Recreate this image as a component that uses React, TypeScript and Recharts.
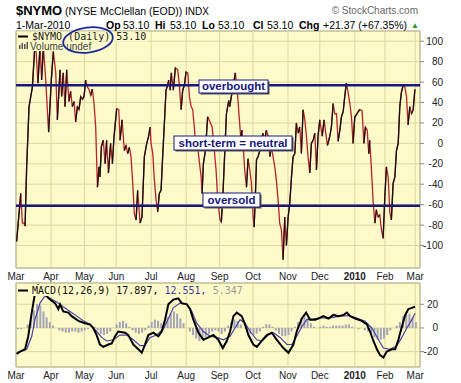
import React from 'react';
import {
  LineChart,
  ComposedChart,
  Line,
  Bar,
  XAxis,
  YAxis,
  CartesianGrid,
  ReferenceLine,
  ReferenceArea,
} from 'recharts';

// trading-day index of each month start (Mar 2009 .. Mar 2010)
const monthTicks = [0, 22, 43, 63, 85, 107, 128, 149, 171, 191, 213, 232, 251];
const monthLabels = ['Mar', 'Apr', 'May', 'Jun', 'Jul', 'Aug', 'Sep', 'Oct', 'Nov', 'Dec', '2010', 'Feb', 'Mar'];
const nymoTicks = [-100, -80, -60, -40, -20, 0, 20, 40, 60, 80, 100];
const macdTicks = [-20, 0, 20];

const overbought = 57;
const oversold = -61;

// [trading day, NYMO]
const nymo: [number, number][] = [
  [0.4, -96], [3, -49], [4, -78], [5, -78], [5.7, -81], [6.7, -23], [8.2, 36], [10.3, 55], [11.7, 92], [12.4, 96],
  [13.8, 59], [15.1, 95], [16.1, 62], [17.2, 94], [18.7, 62], [19.7, 33], [20.5, 11], [22.2, 62], [23.5, 90], [25, 69],
  [26, 23], [27.7, 72], [28.7, 46], [29.7, 69], [30.8, 36], [31.9, 72], [33.3, 41], [34.4, 51], [35.4, 36], [36.5, 41],
  [37.5, 21], [38.6, 36], [39.6, 33], [40.7, 46], [41.7, 43], [42.8, 46], [43.8, 62], [44.9, 55], [45.9, 53], [47, 47],
  [48, 53], [49.1, 38], [50.1, 16], [51.2, -43], [52.2, -23], [52.8, -33], [53.7, -3], [54.9, 3], [56, -20], [57, 3],
  [58.1, -29], [59.5, 0], [60.6, -20], [61.6, 6], [63.3, 34], [64.6, 33], [65.4, 3], [66.7, 23], [68.1, -7], [69.2, -2],
  [70.2, -10], [71.3, -4], [72.3, -13], [73.4, -39], [74.4, -69], [75.5, -75], [76.5, -46], [78, -78], [79.2, -72], [80.7, -13],
  [82.2, 0], [83.4, 7], [84.3, 16], [84.9, 0], [86, -10], [87, -36], [88.1, -56], [89.1, -67], [90.1, -49], [91.2, -46],
  [92.3, -10], [93.3, 20], [94.3, 52], [95.4, 57], [96, 62], [96.9, 52], [97.7, 69], [98.9, 52], [100.2, 74], [101.7, 72],
  [102.7, 57], [103.8, 33], [104.8, 52], [105.9, 57], [106.9, 70], [108, 69], [109, 46], [110.1, 36], [111.1, 33], [112.1, 16],
  [113.2, -7], [113.8, 3], [114.7, -10], [116.4, -33], [117, -49], [117.8, -20], [119.1, -7], [120.5, 26], [122, 21], [123.3, 16],
  [124.7, -7], [125.8, -26], [126.8, -55], [128.3, -75], [129.1, -77], [130.2, -46], [131.3, -7], [132.3, 29], [133.8, 42], [134.4, 36],
  [135.4, 46], [136.5, 55], [137.9, 69], [139.2, 50], [140.3, 26], [141.3, 6], [142.1, 13], [142.8, -2], [143.8, -26], [144.9, -43],
  [145.9, -15], [147, -26], [148, -39], [149.1, -72], [149.7, -82], [150.5, -52], [151.2, -16], [152.2, -13], [153.3, -7], [154.3, 3],
  [155.3, 10], [156.4, 3], [157.4, 13], [158.5, 7], [159.6, -13], [160.6, -3], [161.6, -13], [162.7, -23], [163.7, -36], [164.8, -56],
  [165.8, -78], [166.9, -85], [167.9, -114], [169, -72], [170, -100], [171.1, -72], [172.1, -59], [173.2, -33], [174.2, -13], [175.3, -10],
  [176.3, 20], [177.4, 10], [178.4, 16], [179.4, -10], [180.5, 33], [181.6, 23], [182.6, 7], [183.6, -13], [184.7, -29], [185.7, 0],
  [186.8, 3], [187.9, 10], [188.9, -26], [189.9, 7], [191, 23], [192.5, 7], [193.7, 23], [194.5, 13], [195.8, -2], [197.3, 7],
  [198.3, 16], [199.4, 39], [200.4, 29], [201.5, 29], [202.5, 2], [203.6, 13], [204.6, 26], [205.7, 31], [206.7, 46], [207.7, 59],
  [208.8, 50], [209.9, 39], [210.9, 26], [211.9, 0], [213, 26], [214, 28], [215.1, 31], [216.2, 33], [217.6, 32], [218.7, 0],
  [219.7, 16], [220.8, 13], [221.8, -10], [222.4, 3], [223.5, -26], [224.5, -56], [225.6, -78], [226.6, -65], [227.7, -72], [228.7, -70],
  [229.8, -85], [230.8, -93], [231.9, -52], [232.9, -23], [234, -33], [235, -67], [236, -75], [237.1, -39], [238.2, -33], [239.2, -7],
  [240.3, 0], [241.3, 36], [242.3, 50], [243.4, 57], [244.5, 55], [245.5, 46], [246.5, 18], [247.6, 36], [248.6, 29], [249.7, 33],
  [250.8, 53],
];

// [trading day, MACD]
const macdLine: [number, number][] = [
  [0.4, -22], [2.5, -20], [5.7, -18], [7.7, -7], [9.9, 13], [11.9, 29], [14, 36], [16.5, 33], [19.3, 27], [21.4, 24],
  [24.5, 21], [26.6, 16], [27.7, 20], [29.7, 14], [32.9, 13], [35, 10], [39.2, 6], [43.4, 4], [46.5, 3], [48.6, 0],
  [50.7, -6], [52.8, -14], [54.9, -16], [58, -14], [60.2, -13], [62.3, -7], [64.3, -3], [68.6, -4], [70.6, -6], [73.8, -14],
  [76.9, -18], [79.1, -21], [81.1, -14], [83.2, -6], [86.4, -4], [89.5, -7], [91.6, -3], [93.7, 7], [95.8, 20], [98.9, 24],
  [102, 25], [104.2, 21], [107.4, 20], [109.4, 16], [111.5, 7], [114.7, -4], [117.8, -10], [121, -8], [124.1, -6], [127.2, -10],
  [130, -17], [132.5, -11], [134.6, -3], [136.7, 10], [138.8, 13], [141.9, 10], [144, 3], [146.1, -6], [149.2, -14], [151.4, -16],
  [154.5, -11], [157.7, -6], [160.8, -4], [164, -10], [168.1, -17], [171.3, -21], [174.4, -14], [176.5, -3], [179.7, 8], [182.4, 13],
  [184.9, 7], [188.1, 7], [190.1, 8], [193.3, 10], [196.4, 8], [199.6, 11], [202.7, 10], [205.9, 11], [208, 13], [210.1, 10],
  [213.2, 8], [217.4, 6], [220.6, 3], [222.6, -3], [224.7, -11], [226.9, -18], [228.9, -23], [231, -25], [233.1, -20], [236.3, -18],
  [238.4, -18], [240.4, -10], [242.6, 1], [244.7, 11], [246.7, 16], [248.9, 17], [250.9, 17.9],
];

// [trading day, signal]
const signalLine: [number, number][] = [
  [0.4, -21], [6.7, -18], [9.9, -7], [11.9, 7], [15.1, 21], [18.2, 27], [21.4, 25], [25.6, 22], [29.7, 18], [34, 14],
  [38.2, 10], [42.3, 6], [46.5, 3], [50.7, -3], [53.9, -8], [57, -11], [61.2, -10], [65.4, -6], [69.6, -6], [73.8, -10],
  [78, -15], [81.1, -15], [84.3, -8], [88.5, -6], [92.6, -1], [95.8, 8], [98.9, 17], [103.1, 21], [107.4, 20], [110.5, 14],
  [113.6, 4], [117.8, -3], [122, -7], [126.2, -8], [130.4, -10], [134.6, -7], [137.7, 0], [140.9, 7], [144, 4], [147.2, -3],
  [151.4, -10], [154.5, -11], [158.7, -6], [161.8, -4], [166, -8], [170.3, -14], [173.4, -14], [176.5, -7], [179.7, 1], [182.8, 7],
  [187, 7.6], [191.2, 8.4], [197.5, 8.4], [203.8, 10], [209, 10.5], [214.3, 8.4], [219.5, 5.6], [223.7, 0], [227.9, -10], [231, -17],
  [235.2, -18], [239.4, -15], [242.6, -8], [245.7, 0], [248.9, 7], [250.9, 12.5],
];

// histogram, every second trading day from day 0
const histValues = [
  -1, -1, 0, 3, 8, 15, 20, 19, 14, 9, 5, 2, 0, -2, -3, -4, -4, -3, -3, -4,
  -3, -2, -1, 0, 1, -2, -5, -6, -5, -3, 0, 3, 5, 6, 4, 1, -2, -4, -5, -4,
  -2, 2, 5, 7, 6, 4, 5, 9, 12, 14, 12, 8, 4, 0, -3, -6, -9, -11, -10, -8,
  -5, -3, -2, -3, -5, -3, 2, 5, 7, 6, 3, 0, -3, -5, -6, -5, -3, 1, 3, 3,
  1, -2, -5, -7, -7, -6, -3, 1, 5, 8, 10, 8, 4, 1, 0, 1, 2, 1, 1, 2,
  2, 2, 2, 3, 3, 1, 0, -1, 0, -2, -3, -5, -8, -10, -10, -9, -6, -2, 0, 2,
  5, 10, 13, 12, 9, 5,
];

const FONT = 'Liberation Sans, Arial, sans-serif';
const MONO = 'DejaVu Sans Mono, monospace';
const NAVY = '#17177d';
const PANEL = '#fcfac8';

const nymoRows = nymo.map(([day, v]) => ({ day, v } as Record<string, number>));
// black where the line rises, red where it falls (3 series so segments never join)
for (let i = 0; i < nymo.length - 1; i++) {
  if (nymo[i + 1][1] > nymo[i][1]) {
    const k = 'u' + (i % 3);
    nymoRows[i][k] = nymo[i][1];
    nymoRows[i + 1][k] = nymo[i + 1][1];
  }
}
const histRows = histValues.map((h, i) => ({ day: i * 2, h }));
const macdRows = macdLine.map(([day, m]) => ({ day, m }));
const signalRows = signalLine.map(([day, s]) => ({ day, s }));

const monthTick = (labelY: number) => (props: any) => {
  const label = monthLabels[monthTicks.indexOf(props.payload.value)];
  return (
    <text x={props.x} y={labelY} textAnchor="middle" fontFamily={FONT} fontSize={10}
      fontWeight={label === '2010' ? 'bold' : 'normal'} fill="#222">
      {label}
    </text>
  );
};

const valueTick = (rightX: number) => (props: any) => (
  <text x={rightX} y={props.y + 3.5} textAnchor="end" fontFamily={FONT} fontSize={10} fill="#222">
    {props.payload.value}
  </text>
);

const Box = ({ x, y, w, h, label }: { x: number; y: number; w: number; h: number; label: string }) => (
  <g>
    <rect x={x + 1.5} y={y + 1.5} width={w} height={h} fill="#555" />
    <rect x={x} y={y} width={w} height={h} fill="#fff" stroke={NAVY} strokeWidth={1} />
    <text x={x + w / 2} y={y + h - 3} textAnchor="middle" fontFamily={FONT} fontSize={11.5}
      fontWeight="bold" fill={NAVY}>
      {label}
    </text>
  </g>
);

const App: React.FC = () => {
  return (
    <div style={{ position: 'absolute', left: 0, top: 0, width: 461, height: 383, background: '#fff' }}>
      <div style={{ position: 'absolute', left: 0, top: 0 }}>
        <LineChart width={461} height={290} data={nymoRows} margin={{ top: 31, right: 0, bottom: 4, left: 16 }}>
          <CartesianGrid fill={PANEL} stroke="#dcd7a0" />
          <XAxis type="number" dataKey="day" domain={[0, 254]} ticks={monthTicks} interval={0}
            axisLine={false} tickLine={false} height={18} tick={monthTick(280)} allowDataOverflow />
          <YAxis orientation="right" width={41} domain={[-122, 110]} ticks={nymoTicks} interval={0}
            axisLine={false} tickLine={{ stroke: '#888' }} tickSize={4} tick={valueTick(443)} allowDataOverflow />
          <ReferenceArea x1={0} x2={254} y1={-122} y2={110} fill="none" stroke="#b5b090" />
          <Line dataKey="v" stroke="#b8222c" strokeWidth={1.3} dot={false} isAnimationActive={false} />
          <Line dataKey="u0" stroke="#111" strokeWidth={1.3} dot={false} connectNulls={false} isAnimationActive={false} />
          <Line dataKey="u1" stroke="#111" strokeWidth={1.3} dot={false} connectNulls={false} isAnimationActive={false} />
          <Line dataKey="u2" stroke="#111" strokeWidth={1.3} dot={false} connectNulls={false} isAnimationActive={false} />
          <ReferenceLine y={overbought} stroke={NAVY} strokeWidth={2.5} />
          <ReferenceLine y={oversold} stroke={NAVY} strokeWidth={2.5} />
        </LineChart>
      </div>
      <div style={{ position: 'absolute', left: 0, top: 280 }}>
        <ComposedChart width={461} height={103} data={histRows} margin={{ top: 3, right: 0, bottom: 0, left: 16 }}>
          <CartesianGrid fill={PANEL} stroke="#dcd7a0" />
          <XAxis type="number" dataKey="day" domain={[0, 254]} ticks={monthTicks} interval={0}
            axisLine={false} tickLine={false} height={16} tick={monthTick(99)} allowDataOverflow />
          <XAxis xAxisId="bars" type="category" dataKey="day" hide padding={{ left: 0, right: 3 }} />
          <YAxis orientation="right" width={41} domain={[-33, 38]} ticks={macdTicks} interval={0}
            axisLine={false} tickLine={{ stroke: '#888' }} tickSize={4} tick={valueTick(438)} allowDataOverflow />
          <ReferenceArea x1={0} x2={254} y1={-33} y2={38} fill="none" stroke="#b5b090" />
          <Bar xAxisId="bars" dataKey="h" fill="#a4a4b8" barSize={2} isAnimationActive={false} />
          <Line data={signalRows} dataKey="s" stroke="#4a40a8" strokeWidth={1.2} dot={false} isAnimationActive={false} />
          <Line data={macdRows} dataKey="m" stroke="#000" strokeWidth={2} dot={false} isAnimationActive={false} />
        </ComposedChart>
      </div>
      <svg width={461} height={383} style={{ position: 'absolute', left: 0, top: 0, pointerEvents: 'none' }}>
        <text y={15} fontFamily={FONT} fill="#000">
          <tspan x={16} fontSize={13} fontWeight="bold">$NYMO</tspan>
          <tspan x={65} fontSize={10.5}>(NYSE McClellan (EOD))</tspan>
          <tspan x={185} fontSize={10}>INDX</tspan>
        </text>
        <text x={418} y={14} textAnchor="end" fontFamily={FONT} fontSize={10} fill="#666">© StockCharts.com</text>
        <text y={29} fontFamily={FONT} fontSize={10.5} fill="#000">
          <tspan x={106} fontWeight="bold">Op</tspan>
          <tspan x={123}>53.10</tspan>
          <tspan x={155} fontWeight="bold">Hi</tspan>
          <tspan x={170}>53.10</tspan>
          <tspan x={202} fontWeight="bold">Lo</tspan>
          <tspan x={218}>53.10</tspan>
          <tspan x={253} fontWeight="bold">Cl</tspan>
          <tspan x={267}>53.10</tspan>
          <tspan x={299} fontWeight="bold">Chg</tspan>
          <tspan x={323}>+21.37 (+67.35%)</tspan>
        </text>
        <text x={16} y={29} fontFamily={FONT} fontSize={10.5} fill="#000">1-Mar-2010</text>
        <text x={411} y={28} fontFamily={FONT} fontSize={8} fill="#2a9a2a">▲</text>

        <rect x={17} y={31.5} width={131} height={10} fill={PANEL} />
        <rect x={17} y={41.5} width={75} height={9.5} fill={PANEL} />
        <line x1={18} y1={36.5} x2={28} y2={36.5} stroke="#000" strokeWidth={2} />
        <text x={32} y={40} fontFamily={MONO} fontSize={10} fill="#222">$NYMO (Daily) 53.10</text>
        <g fill="#555">
          <rect x={19} y={45} width={1.5} height={4} />
          <rect x={21.5} y={43} width={1.5} height={6} />
          <rect x={24} y={44} width={1.5} height={5} />
          <rect x={26.5} y={42} width={1.5} height={7} />
        </g>
        <text x={30} y={49.5} fontFamily={FONT} fontSize={10} fill="#444">Volume undef</text>
        <ellipse cx={88} cy={40} rx={25} ry={12.5} transform="rotate(-8 88 40)" fill="none" stroke="#1a2a9a" strokeWidth={1.8} />

        <Box x={199} y={80} w={69} h={13} label="overbought" />
        <Box x={174} y={136} w={118} h={14} label="short-term = neutral" />
        <Box x={203} y={193} w={57} h={14} label="oversold" />

        <rect x={17} y={285} width={229} height={11} fill={PANEL} />
        <line x1={18} y1={290.5} x2={28} y2={290.5} stroke="#000" strokeWidth={2} />
        <text y={294} fontFamily={MONO} fontSize={10}>
          <tspan x={32} fill="#111">MACD(12,26,9) 17.897,</tspan>
          <tspan fill="#3c3c9c"> 12.551,</tspan>
          <tspan fill="#999"> 5.347</tspan>
        </text>
      </svg>
    </div>
  );
};

export default App;
